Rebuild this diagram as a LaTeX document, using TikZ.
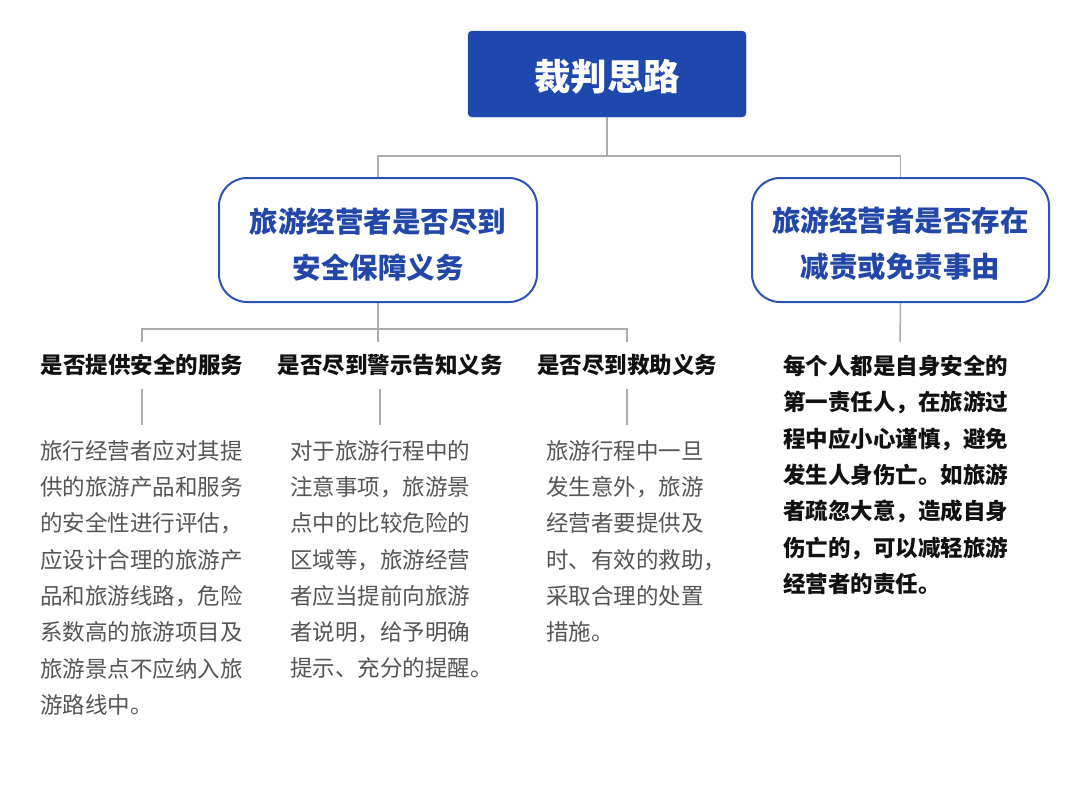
\documentclass[tikz,border=0pt]{standalone}
\usepackage{fontspec}
\setmainfont{Noto Sans CJK SC}
\definecolor{titleblue}{HTML}{1E48AD}
\definecolor{boxblue}{HTML}{2C53B6}
\definecolor{textblue}{HTML}{2347A8}
\definecolor{linegray}{HTML}{ABABAB}
\definecolor{bodygray}{HTML}{555555}
\definecolor{darktext}{HTML}{111111}
\tikzset{
  titlebox/.style={fill=titleblue, draw=titleblue, rounded corners=4pt, minimum width=278pt, minimum height=86pt,
    text=white, font=\fontsize{36.5}{40}\selectfont\bfseries, inner sep=0pt},
  catbox/.style={draw=boxblue, line width=2pt, fill=white, rounded corners=28pt, minimum height=124pt,
    text=textblue, font=\fontsize{28.5}{46}\selectfont\bfseries, align=center, inner sep=0pt},
  heading/.style={text=darktext, font=\fontsize{22.5}{26}\selectfont\bfseries, inner sep=0pt},
  bodytext/.style={text=bodygray, font=\fontsize{22.5}{36.3}\selectfont, align=left, anchor=north west, inner sep=0pt},
  boldtext/.style={text=darktext, font=\fontsize{22.5}{36.3}\selectfont\bfseries, align=left, anchor=north west, inner sep=0pt},
  conn/.style={draw=linegray, line width=1.5pt}
}
\begin{document}
\begin{tikzpicture}[x=1pt,y=-1pt]
\useasboundingbox[fill=white] (0,0) rectangle (1080,788);
% top
\node[titlebox] (root) at (607,74) {\rule{0pt}{37pt}裁判思路};
\node[catbox, minimum width=318pt] (left) at (378,240) {\rule{0pt}{33pt}旅游经营者是否尽到\\安全保障义务};
\node[catbox, minimum width=297pt] (right) at (900.5,240) {\rule{0pt}{33pt}旅游经营者是否存在\\减责或免责事由};
\coordinate (rj) at (607,156);
\draw[conn] (root.south) -- (rj);
\draw[conn] (left.north) |- (rj) -| (right.north);
% second level headings
\node[heading] (h1) at (142,365) {是否提供安全的服务};
\node[heading] (h2) at (390,365) {是否尽到警示告知义务};
\node[heading] (h3) at (627,365) {是否尽到救助义务};
\coordinate (lj) at (378,329);
\coordinate (lt1) at (142,342);
\coordinate (lt2) at (378,342);
\coordinate (lt3) at (627,342);
\draw[conn] (left.south) -- (lt2);
\draw[conn] (lt1) |- (lj) -| (lt3);
\coordinate (rt) at (900,342);
\draw[conn] (right.south) -- (rt);
% body texts
\node[bodytext] (t1) at (40,440) {旅行经营者应对其提\\供的旅游产品和服务\\的安全性进行评估，\\应设计合理的旅游产\\品和旅游线路，危险\\系数高的旅游项目及\\旅游景点不应纳入旅\\游路线中。};
\node[bodytext] (t2) at (290,440) {对于旅游行程中的\\注意事项，旅游景\\点中的比较危险的\\区域等，旅游经营\\者应当提前向旅游\\者说明，给予明确\\提示、充分的提醒。};
\node[bodytext] (t3) at (546,440) {旅游行程中一旦\\发生意外，旅游\\经营者要提供及\\时、有效的救助，\\采取合理的处置\\措施。};
\node[boldtext] (r1) at (783,355) {每个人都是自身安全的\\第一责任人，在旅游过\\程中应小心谨慎，避免\\发生人身伤亡。如旅游\\者疏忽大意，造成自身\\伤亡的，可以减轻旅游\\经营者的责任。};
% connectors heading -> body
\draw[conn] (142,389) coordinate (a1) -- (142,425) coordinate (b1);
\draw[conn] (380,389) coordinate (a2) -- (380,425) coordinate (b2);
\draw[conn] (627,389) coordinate (a3) -- (627,425) coordinate (b3);
\end{tikzpicture}
\end{document}
